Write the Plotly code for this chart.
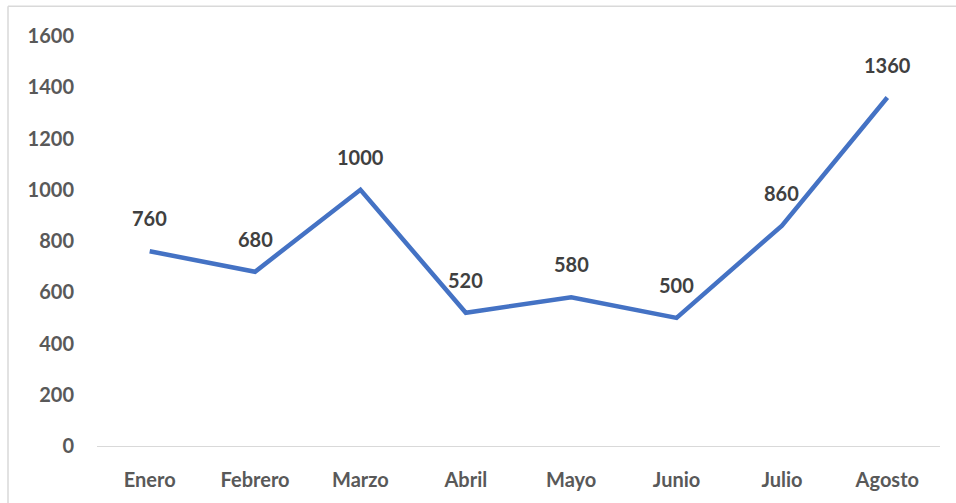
import plotly.graph_objects as go

months = ["Enero", "Febrero", "Marzo", "Abril", "Mayo", "Junio", "Julio", "Agosto"]
values = [760, 680, 1000, 520, 580, 500, 860, 1360]
y_ticks = [0, 200, 400, 600, 800, 1000, 1200, 1400, 1600]

W, H = 956, 503
ml, mr, mt, mb = 97, 16, 36, 55
pw, ph = W - ml - mr, H - mt - mb
FONT = "Lato, Open Sans, sans-serif"

fig = go.Figure()
fig.add_trace(go.Scatter(
    x=months, y=values, mode="lines",
    line=dict(color="#4472C4", width=4.5, shape="linear"),
    hoverinfo="x+y",
))

for m, v in zip(months, values):
    fig.add_annotation(
        x=m, y=v, text=f"<b>{v}</b>", showarrow=False, yshift=33,
        font=dict(family=FONT, size=20, color="#404040"),
    )

# chart border (only top and left visible in the crop)
bx = (8 - ml) / pw
by = 1 + (mt - 6) / ph
fig.add_shape(type="line", xref="paper", yref="paper", x0=bx, x1=bx, y0=-0.5, y1=by,
              line=dict(color="#D9D9D9", width=1.5))
fig.add_shape(type="line", xref="paper", yref="paper", x0=bx, x1=1.5, y0=by, y1=by,
              line=dict(color="#D9D9D9", width=1.5))

fig.update_layout(
    width=W, height=H,
    margin=dict(l=ml, r=mr, t=mt, b=mb),
    paper_bgcolor="white", plot_bgcolor="white",
    showlegend=False,
    font=dict(family=FONT, color="#595959"),
    xaxis=dict(
        type="category", range=[-0.5, len(months) - 0.5],
        showgrid=False, zeroline=False,
        showline=True, linecolor="#D9D9D9", linewidth=1.2,
        ticks="", tickfont=dict(family=FONT, size=20, weight="bold", color="#595959"),
        ticklabelstandoff=16,
    ),
    yaxis=dict(
        range=[0, 1600], tickvals=y_ticks,
        showgrid=False, zeroline=False, showline=False,
        ticks="", tickfont=dict(family=FONT, size=20, weight="bold", color="#595959"),
        ticklabelstandoff=22,
    ),
)

fig.write_html("out.html")
